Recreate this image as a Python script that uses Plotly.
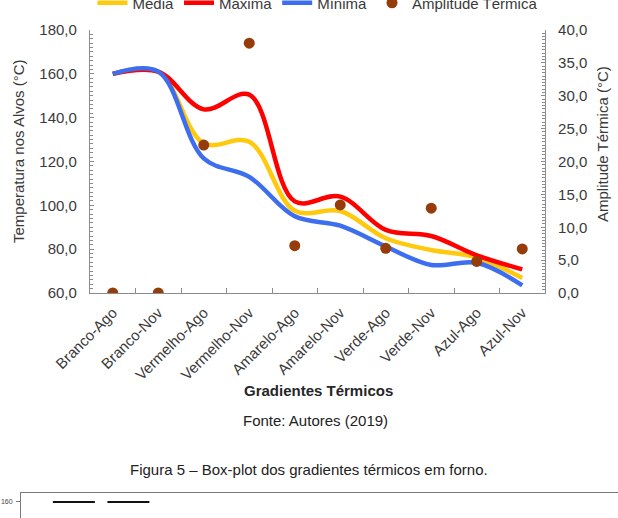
import plotly.graph_objects as go

categories = ["Branco-Ago", "Branco-Nov", "Vermelho-Ago", "Vermelho-Nov", "Amarelo-Ago",
              "Amarelo-Nov", "Verde-Ago", "Verde-Nov", "Azul-Ago", "Azul-Nov"]
media = [160.0, 161.0, 128.3, 129.0, 97.5, 97.4, 85.0, 79.6, 76.2, 66.8]
maxima = [160.0, 161.0, 143.8, 150.5, 101.8, 104.0, 88.8, 86.0, 77.2, 70.8]
minima = [160.0, 161.0, 121.4, 113.0, 95.0, 90.7, 81.2, 72.8, 73.8, 63.5]
amplitude = [0.0, 0.0, 22.5, 38.0, 7.2, 13.4, 6.8, 12.9, 4.8, 6.7]

# fragment of the next figure (box-plot medians visible at the bottom edge)
frag_x = [1, 2]
frag_median = [160, 160]

W, H = 618, 518
FONT = "Liberation Sans, Arial, sans-serif"
AXC = "#8c8c8c"
TXT = "#3a3a3a"

fig = go.Figure()
fig.add_trace(go.Scatter(x=categories, y=media, name="Média", mode="lines",
                         line=dict(color="#FFC90E", width=4.5, shape="spline", smoothing=1.0)))
fig.add_trace(go.Scatter(x=categories, y=maxima, name="Máxima", mode="lines",
                         line=dict(color="#FF0000", width=4.5, shape="spline", smoothing=1.0)))
fig.add_trace(go.Scatter(x=categories, y=minima, name="Mínima", mode="lines",
                         line=dict(color="#3D6EF0", width=4.5, shape="spline", smoothing=1.0)))
fig.add_trace(go.Scatter(x=categories, y=amplitude, name="Amplitude Térmica", mode="markers",
                         marker=dict(color="#963C0B", size=11), yaxis="y2"))
fig.add_trace(go.Scatter(x=frag_x, y=frag_median, mode="markers", showlegend=False,
                         marker=dict(symbol="line-ew-open", size=30, color="#111111",
                                     line=dict(color="#111111", width=2.2)),
                         xaxis="x3", yaxis="y3", hoverinfo="skip"))

x0, x1 = 90 / W, 545 / W
y0, y1 = 1 - 293 / H, 1 - 30 / H

fig.update_layout(
    template="none",
    width=W, height=H, autosize=False,
    margin=dict(l=0, r=0, t=0, b=0, pad=0, autoexpand=False),
    paper_bgcolor="white", plot_bgcolor="white",
    separators=",.",
    font=dict(family=FONT, size=15, color=TXT),
    showlegend=True,
    legend=dict(orientation="h", x=(x0 + x1) / 2, xanchor="center",
                y=1 - 3 / H, yanchor="middle", font=dict(size=15, color=TXT),
                bgcolor="rgba(0,0,0,0)", itemwidth=30, tracegroupgap=0, borderwidth=0),
    xaxis=dict(domain=[x0, x1], type="category", range=[-0.5, 9.5], automargin=False,
               showline=True, linecolor=AXC, linewidth=1.2,
               ticks="inside", ticklen=5, tickcolor=AXC, tickson="boundaries",
               tickangle=-45, tickfont=dict(size=15, color=TXT),
               showgrid=False, zeroline=False, anchor="y", ticklabelstandoff=4),
    yaxis=dict(domain=[y0, y1], range=[60, 180], dtick=20, tick0=60, automargin=False,
               tickformat=".1f", showline=True, linecolor=AXC, linewidth=1.2,
               ticks="inside", ticklen=4, tickcolor=AXC,
               minor=dict(dtick=2, ticks="inside", ticklen=3, tickcolor=AXC),
               showgrid=False, zeroline=False, anchor="x",
               tickfont=dict(size=15, color=TXT), ticklabelstandoff=9),
    yaxis2=dict(range=[0, 40], dtick=5, tick0=0, tickformat=".1f", automargin=False,
                overlaying="y", side="right", anchor="x",
                showline=True, linecolor=AXC, linewidth=1.2,
                ticks="inside", ticklen=4, tickcolor=AXC,
                minor=dict(dtick=0.5, ticks="inside", ticklen=3, tickcolor=AXC),
                showgrid=False, zeroline=False,
                tickfont=dict(size=15, color=TXT), ticklabelstandoff=9),
    xaxis3=dict(domain=[21 / W, 1.0], range=[0.03, 10.98], anchor="y3", side="top",
                automargin=False,
                showline=True, linecolor="#7a7a7a", linewidth=1,
                showticklabels=False, ticks="", showgrid=False, zeroline=False),
    yaxis3=dict(domain=[0, 25 / H], range=[156.44, 162], anchor="x3", automargin=False,
                tickvals=[160], tickformat="d", ticks="outside", ticklen=4,
                tickcolor="#7a7a7a", showline=True, linecolor="#7a7a7a", linewidth=1,
                tickfont=dict(size=7, color="#444"), showgrid=False, zeroline=False,
                ticklabelstandoff=2),
)

annotations = [
    dict(text="Temperatura nos Alvos (°C)", x=18 / W, y=1 - 151 / H, textangle=-90,
         font=dict(size=15, color=TXT)),
    dict(text="Amplitude Térmica (°C)", x=602 / W, y=1 - 144 / H, textangle=-90,
         font=dict(size=15, color=TXT)),
    dict(text="<b>Gradientes Térmicos</b>", x=318 / W, y=1 - 390 / H,
         font=dict(size=15, color="#262626")),
    dict(text="Fonte: Autores (2019)", x=315 / W, y=1 - 420 / H,
         font=dict(size=15, color="#222222")),
    dict(text="Figura 5 – Box-plot dos gradientes térmicos em forno.", x=309 / W, y=1 - 469 / H,
         font=dict(size=15, color="#222222")),
]
for a in annotations:
    a.update(xref="paper", yref="paper", showarrow=False, xanchor="center", yanchor="middle")
fig.update_layout(annotations=annotations)

fig.write_html("out.html")
